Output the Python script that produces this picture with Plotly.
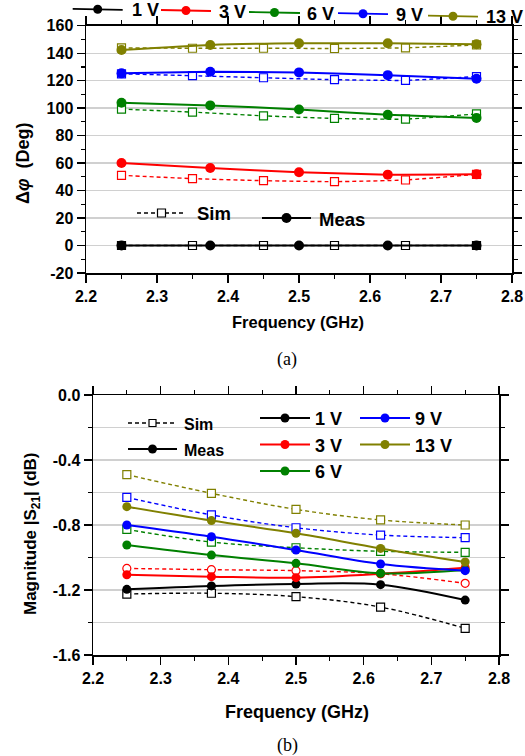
import plotly.graph_objects as go

# ---------------- data ----------------
voltages = ["1 V", "3 V", "6 V", "9 V", "13 V"]
colors = ["#000000", "#ff0000", "#008000", "#0000ff", "#808000"]

freq_meas = [2.25, 2.375, 2.5, 2.625, 2.75]
freq_sim_a = [2.25, 2.35, 2.45, 2.55, 2.65, 2.75]
freq_sim_b = [2.25, 2.375, 2.5, 2.625, 2.75]

phase_meas = [
    [0, 0, 0, 0, 0],
    [60.1, 56.4, 53.3, 51.6, 51.8],
    [103.9, 102.0, 99.0, 95.1, 92.9],
    [125.3, 126.5, 126.0, 124.0, 121.4],
    [142.3, 146.0, 147.2, 147.2, 146.5],
]
phase_sim = [
    [0, 0, 0, 0, 0, 0],
    [51.1, 48.7, 47.2, 46.5, 47.7, 51.8],
    [99.3, 97.1, 94.4, 92.5, 92.0, 95.8],
    [125.0, 123.6, 122.1, 120.7, 120.2, 123.0],
    [143.8, 143.6, 143.6, 143.4, 143.9, 146.0],
]
mag_meas = [
    [-1.196, -1.175, -1.163, -1.167, -1.262],
    [-1.106, -1.118, -1.124, -1.100, -1.063],
    [-0.923, -0.985, -1.036, -1.097, -1.077],
    [-0.800, -0.872, -0.954, -1.040, -1.081],
    [-0.687, -0.773, -0.851, -0.944, -1.028],
]
mag_sim = [
    [-1.225, -1.220, -1.241, -1.305, -1.436],
    [-1.067, -1.075, -1.081, -1.100, -1.159],
    [-0.827, -0.905, -0.940, -0.962, -0.968],
    [-0.630, -0.738, -0.817, -0.862, -0.878],
    [-0.490, -0.605, -0.704, -0.769, -0.800],
]
sim_symbol_b = ["square", "circle", "square", "square", "square"]

x_tickvals = [2.2, 2.3, 2.4, 2.5, 2.6, 2.7, 2.8]
x_ticktext = ["2.2", "2.3", "2.4", "2.5", "2.6", "2.7", "2.8"]
x_minorvals = [2.25, 2.35, 2.45, 2.55, 2.65, 2.75]
ya_tickvals = [-20, 0, 20, 40, 60, 80, 100, 120, 140, 160]
ya_ticktext = ["-20", "0", "20", "40", "60", "80", "100", "120", "140", "160"]
ya_minorvals = [-10, 10, 30, 50, 70, 90, 110, 130, 150]
yb_tickvals = [-1.6, -1.2, -0.8, -0.4, 0.0]
yb_ticktext = ["-1.6", "-1.2", "-0.8", "-0.4", "0.0"]
yb_minorvals = [-1.4, -1.0, -0.6, -0.2]

W, H = 525, 756
FONT = "Liberation Sans"
DASH = "4px,3px"

fig = go.Figure()

# ---------------- panel (a) ----------------
for i in range(5):
    fig.add_trace(go.Scatter(
        x=freq_sim_a, y=phase_sim[i], xaxis="x", yaxis="y", mode="lines+markers",
        line=dict(color=colors[i], width=1.4, dash=DASH, shape="spline", smoothing=0.5),
        marker=dict(symbol="square", size=8, color="white", line=dict(color=colors[i], width=1.2)),
        showlegend=False, hoverinfo="skip"))
for i in range(5):
    fig.add_trace(go.Scatter(
        x=freq_meas, y=phase_meas[i], xaxis="x", yaxis="y", mode="lines+markers",
        line=dict(color=colors[i], width=2, shape="spline", smoothing=0.5),
        marker=dict(symbol="circle", size=10, color=colors[i]),
        showlegend=False, hoverinfo="skip"))

# ---------------- panel (b) ----------------
for i in range(5):
    fig.add_trace(go.Scatter(
        x=freq_sim_b, y=mag_sim[i], xaxis="x2", yaxis="y2", mode="lines+markers",
        line=dict(color=colors[i], width=1.4, dash=DASH, shape="spline", smoothing=1),
        marker=dict(symbol=sim_symbol_b[i], size=8, color="white", line=dict(color=colors[i], width=1.2)),
        showlegend=False, hoverinfo="skip"))
for i in range(5):
    fig.add_trace(go.Scatter(
        x=freq_meas, y=mag_meas[i], xaxis="x2", yaxis="y2", mode="lines+markers",
        line=dict(color=colors[i], width=2, shape="spline", smoothing=1),
        marker=dict(symbol="circle", size=9, color=colors[i]),
        showlegend=False, hoverinfo="skip"))

# ---------------- legend samples (paper-pixel shapes) ----------------
shapes = []
def px(x):
    return x / W
def py(y):
    return 1 - y / H

def leg_line(x0, x1, y0, y1, color, dash=None, kind="circle", size=9, open_=False):
    shapes.append(dict(type="line", xref="paper", yref="paper",
                       x0=px(x0), x1=px(x1), y0=py(y0), y1=py(y1),
                       line=dict(color=color, width=1.3 if dash else 1.8, dash=dash or "solid")))
    cx, cy, r = (x0 + x1) / 2, (y0 + y1) / 2, size / 2
    shapes.append(dict(type=kind, xref="paper", yref="paper",
                       x0=px(cx - r), x1=px(cx + r), y0=py(cy + r), y1=py(cy - r),
                       fillcolor="white" if open_ else color,
                       line=dict(color=color, width=1.2 if open_ else 0)))

annotations = []
def text(x, y, s, size=18, bold=True, family=FONT, anchor="left", angle=0):
    annotations.append(dict(
        x=px(x), y=py(y), xref="paper", yref="paper", text=s, showarrow=False,
        xanchor=anchor, yanchor="middle", textangle=angle,
        font=dict(family=family, size=size, color="black", weight="bold" if bold else "normal")))

# top legend of (a)
top_leg = [(72.7, 122.7, 9.3, 130, 10.5), (161, 211, 10.5, 217, 11.5), (249, 300, 12.5, 305, 13.5),
           (338, 388, 13.7, 394, 15), (428, 478, 16.2, 484, 17.5)]
for i, (x0, x1, ly, tx, ty) in enumerate(top_leg):
    leg_line(x0, x1, ly - 0.5, ly + 0.5, colors[i], size=9)
    text(tx, ty, voltages[i], size=18)

# Sim / Meas legend in (a)
leg_line(137, 186, 213, 213, "black", dash=DASH, kind="rect", size=8, open_=True)
text(195, 214, "Sim", size=18.5)
leg_line(262, 311, 218, 218, "black", kind="circle", size=10)
text(317, 219, "Meas", size=18.5)

# legends in (b)
leg_line(128, 177, 423, 423, "black", dash=DASH, kind="rect", size=7, open_=True)
text(182, 424, "Sim", size=16)
leg_line(128, 177, 449, 449, "black", kind="circle", size=9)
text(182, 450, "Meas", size=16)
b_leg = [(260, 310, 418, 313), (260, 310, 444.5, 313), (260, 310, 471, 313),
         (360, 410, 418, 413), (360, 410, 444.5, 413)]
for i, (x0, x1, ly, tx) in enumerate(b_leg):
    leg_line(x0, x1, ly, ly, colors[i], size=9)
    text(tx, ly + 1, voltages[i], size=18)

# axis titles & captions
text(23, 163, "Δ<i>φ</i>  (Deg)", size=18, anchor="center", angle=-90)
text(298, 322, "Frequency (GHz)", size=16.5, anchor="center")
text(287, 359, "(a)", size=18, bold=False, family="Liberation Serif", anchor="center")
text(32, 534, "Magnitude |S<sub>21</sub>| (dB)", size=17, anchor="center", angle=-90)
text(297, 712, "Frequency (GHz)", size=18, anchor="center")
text(287, 745, "(b)", size=18, bold=False, family="Liberation Serif", anchor="center")

tickfont = dict(family=FONT, size=16, color="black", weight="bold")
common_x = dict(range=[2.2, 2.8], tickmode="array", tickvals=x_tickvals, ticktext=x_ticktext,
                ticks="outside", ticklen=8, tickwidth=1.3, tickcolor="black",
                minor=dict(tickmode="array", tickvals=x_minorvals, ticks="outside", ticklen=4,
                           tickcolor="black", tickwidth=1.2),
                showline=True, linecolor="black", linewidth=1.5, mirror="ticks",
                showgrid=False, zeroline=False, tickfont=tickfont, fixedrange=True, automargin=False)

fig.update_layout(
    width=W, height=H, margin=dict(l=0, r=0, t=0, b=0, pad=0, autoexpand=False),
    paper_bgcolor="white", plot_bgcolor="rgba(0,0,0,0)", showlegend=False,
    xaxis=dict(domain=[86 / W, 512 / W], anchor="y", **common_x),
    yaxis=dict(domain=[1 - 273 / H, 1 - 25.7 / H], anchor="x", range=[-20, 160],
               tickmode="array", tickvals=ya_tickvals, ticktext=ya_ticktext,
               ticks="outside", ticklen=8, tickwidth=1.3, tickcolor="black",
               minor=dict(tickmode="array", tickvals=ya_minorvals, ticks="outside", ticklen=4,
                          tickcolor="black", tickwidth=1.2),
               showline=True, linecolor="black", linewidth=1.5, mirror="ticks",
               showgrid=True, gridcolor="#d0d0d0", gridwidth=1.3, zeroline=False,
               tickfont=tickfont, fixedrange=True, automargin=False),
    xaxis2=dict(domain=[93 / W, 499 / W], anchor="y2", **common_x),
    yaxis2=dict(domain=[1 - 655 / H, 1 - 395 / H], anchor="x2", range=[-1.6, 0],
                tickmode="array", tickvals=yb_tickvals, ticktext=yb_ticktext,
                ticks="outside", ticklen=8, tickwidth=1.3, tickcolor="black",
                minor=dict(tickmode="array", tickvals=yb_minorvals, ticks="outside", ticklen=4,
                           tickcolor="black", tickwidth=1.2, showgrid=True,
                           gridcolor="#d0d0d0", gridwidth=1.3),
                showline=True, linecolor="black", linewidth=1.5, mirror="ticks",
                showgrid=True, gridcolor="#d0d0d0", gridwidth=1.3, zeroline=False,
                tickfont=tickfont, fixedrange=True, automargin=False),
    shapes=shapes,
    annotations=annotations,
)

fig.write_html("out.html", config={"displayModeBar": False, "staticPlot": True},
               post_script="document.body.style.margin='0';document.body.style.overflow='hidden';")
